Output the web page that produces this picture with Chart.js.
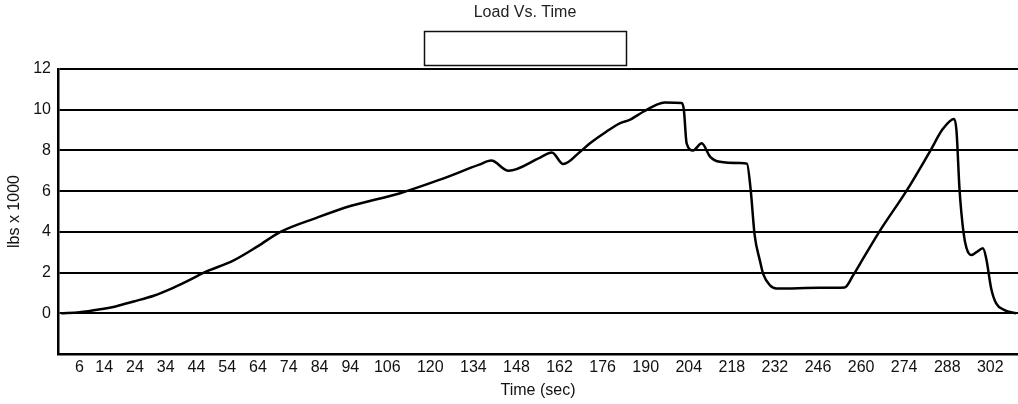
<!DOCTYPE html>
<html>
<head>
<meta charset="utf-8">
<script src="https://cdn.jsdelivr.net/npm/chart.js@4"></script>
<style>
  body { margin: 0; background: #fff; }
  #wrap { width: 1018px; height: 404px; }
</style>
</head>
<body>
<div id="wrap"><canvas id="loadChart" width="1018" height="404"></canvas></div>
<script>
// time in seconds and load (lbs x 1000)
const times = [0, 6, 12.8, 18, 23.6, 30.1, 36.6, 42, 46.4, 56.1, 64, 71.3, 83.2, 94, 110.2,
  122.9, 135.9, 139.8, 145.4, 155.7, 159.5, 163.2, 168.7, 171.9, 177.3, 181.7, 184.8, 189.2,
  193.6, 196.2, 201.7, 202.4, 203.3, 205.4, 208.2, 210.9, 214.1, 220.6, 222.9, 224.1, 225.4,
  227.1, 228.2, 230.4, 232.5, 246.6, 254.7, 257.4, 260.6, 266.1, 274.7, 282.3, 286.6, 290.2,
  291, 292, 293.3, 294.2, 295.8, 297.4, 299.6, 300.7, 302.3, 303.9, 306.6, 310.4];
const loads = [0, 0.05, 0.2, 0.35, 0.58, 0.86, 1.26, 1.65, 2.0, 2.6, 3.3, 4.0, 4.7, 5.27, 5.9,
  6.55, 7.3, 7.5, 7.0, 7.65, 7.9, 7.33, 7.94, 8.35, 8.93, 9.34, 9.5, 9.9,
  10.25, 10.36, 10.33, 10.0, 8.35, 8.0, 8.35, 7.7, 7.44, 7.38, 7.35, 6.1, 3.85,
  2.6, 1.92, 1.37, 1.22, 1.25, 1.27, 1.86, 2.67, 4.05, 6.0, 7.93, 9.06, 9.55,
  8.98, 6.07, 3.96, 3.24, 2.86, 2.99, 3.19, 2.67, 1.21, 0.49, 0.16, 0.0];

// x axis labels as printed under the chart
const timeTicks = [6, 14, 24, 34, 44, 54, 64, 74, 84, 94, 106, 120, 134, 148, 162, 176,
  190, 204, 218, 232, 246, 260, 274, 288, 302];

const chartTitle = 'Load Vs. Time';

const fontFamily = '"Liberation Sans", Arial, sans-serif';

// title text and the empty legend frame
const headerPlugin = {
  id: 'header',
  afterDraw(chart) {
    const c = chart.ctx;
    c.save();
    c.fillStyle = '#222';
    c.font = '16px ' + fontFamily;
    c.textAlign = 'center';
    c.textBaseline = 'middle';
    c.fillText(chartTitle, 525, 13);
    c.strokeStyle = '#111';
    c.lineWidth = 1.5;
    c.strokeRect(424.5, 31.5, 202, 34);
    c.restore();
  }
};

const ctx = document.getElementById('loadChart').getContext('2d');
new Chart(ctx, {
  type: 'line',
  data: {
    datasets: [{
      data: times.map((t, i) => ({ x: t, y: loads[i] })),
      borderColor: '#000',
      borderWidth: 2.5,
      pointRadius: 0,
      fill: false,
      cubicInterpolationMode: 'monotone'
    }]
  },
  options: {
    responsive: false,
    animation: false,
    layout: { padding: { top: 69, left: 0, right: 0, bottom: 0 } },
    plugins: {
      legend: { display: false },
      tooltip: { enabled: false },
      title: { display: false }
    },
    scales: {
      x: {
        type: 'linear',
        min: -1,
        max: 311,
        afterBuildTicks: scale => {
          scale.ticks = timeTicks.map(v => ({ value: v }));
        },
        afterFit: scale => { scale.height = 50; },
        grid: { display: false, drawTicks: false },
        border: { display: true, color: '#000', width: 2.5 },
        ticks: {
          autoSkip: false,
          maxRotation: 0,
          padding: 4,
          color: '#111',
          font: { family: fontFamily, size: 16 },
          callback: v => String(v)
        },
        title: {
          display: true,
          text: 'Time (sec)',
          color: '#111',
          font: { family: fontFamily, size: 16 },
          padding: { top: 0, bottom: 4 }
        }
      },
      y: {
        min: -2,
        max: 12,
        afterFit: scale => { scale.width = 58; },
        grid: {
          drawTicks: false,
          lineWidth: 2,
          color: c => (c.tick && c.tick.value === -2) ? 'rgba(0,0,0,0)' : '#000'
        },
        border: { display: true, color: '#000', width: 2.5 },
        ticks: {
          stepSize: 2,
          padding: 7,
          color: '#111',
          font: { family: fontFamily, size: 16 },
          callback: v => (v === -2 ? '' : String(v))
        },
        title: {
          display: true,
          text: 'lbs x 1000',
          color: '#111',
          font: { family: fontFamily, size: 16 },
          padding: { top: 5, bottom: 0 }
        }
      }
    }
  },
  plugins: [headerPlugin]
});
</script>
</body>
</html>
